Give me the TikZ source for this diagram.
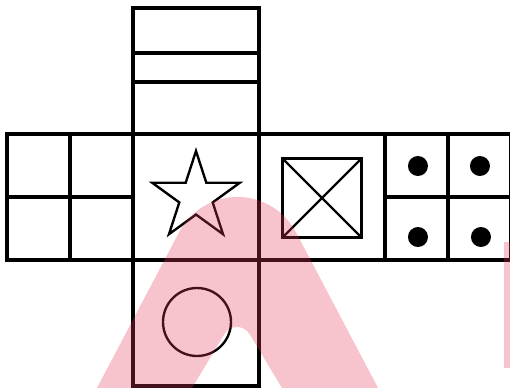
\documentclass[tikz,border=0pt]{standalone}
\usetikzlibrary{positioning,calc,shapes.geometric}

\begin{document}
\begin{tikzpicture}[x=0.02cm, y=-0.02cm,
    face/.style={draw, line width=1.8pt, minimum size=2.52cm, inner sep=0pt,
      outer sep=0pt},
    grid/.style={line width=1.8pt},
    figline/.style={draw, line width=1.35pt, inner sep=0pt, outer sep=0pt},
    dotmark/.style={circle, fill=black, minimum size=0.4cm, inner sep=0pt},
    wmark/.style={fill={rgb,255:red,228;green,58;blue,88}, fill opacity=0.3} ]

  \useasboundingbox (0,0) rectangle (510,388);
  \clip (0,0) rectangle (510,388);

  % faces of the net
  \node[face] (star) at (196,197) {};
  \node[face, above=0pt of star] (top) {};
  \node[face, below=0pt of star] (bottom) {};
  \node[face, left=0pt of star] (left) {};
  \node[face, right=0pt of star] (cross) {};
  \node[face, right=0pt of cross] (dots) {};

  % stripes and grids
  \draw[grid] ($(top.north west)!0.357!(top.south west)$) --
    ($(top.north east)!0.357!(top.south east)$);
  \draw[grid] ($(top.north west)!0.587!(top.south west)$) --
    ($(top.north east)!0.587!(top.south east)$);
  \draw[grid] (left.north) -- (left.south) (left.west) -- (left.east);
  \draw[grid] (dots.north) -- (dots.south) (dots.west) -- (dots.east);

  % symbols on the faces
  \node[figline, star, star points=5, star point ratio=2.618,
    minimum size=1.84cm] (shape) at (196,197) {};
  \node[figline, circle, minimum size=1.36cm] (ring) at (197,322) {};
  \node[figline, line width=1.7pt, minimum size=1.57cm] (xbox) at (322,198) {};
  \draw[line width=1.35pt] (xbox.north west) -- (xbox.south east)
    (xbox.north east) -- (xbox.south west);
  \foreach \dx/\dy [count=\i] in {-30/-31, 32/-31, -30/40, 33/40}
    \node[dotmark] (dot\i) at ([shift={(\dx,\dy)}]dots.center) {};

  % watermark
  \fill[wmark, even odd rule] (90.6,400) -- (179.2,232.1)
    arc[start angle=207.9, end angle=332.1, radius=66] -- (384.4,400) -- cycle
    (184.8,400) -- (224.3,334.2)
    arc[start angle=210.96, end angle=329.04, radius=14.8] -- (289.2,400) -- cycle;
  \fill[wmark] (504,242) rectangle (512,368);

\end{tikzpicture}
\end{document}
